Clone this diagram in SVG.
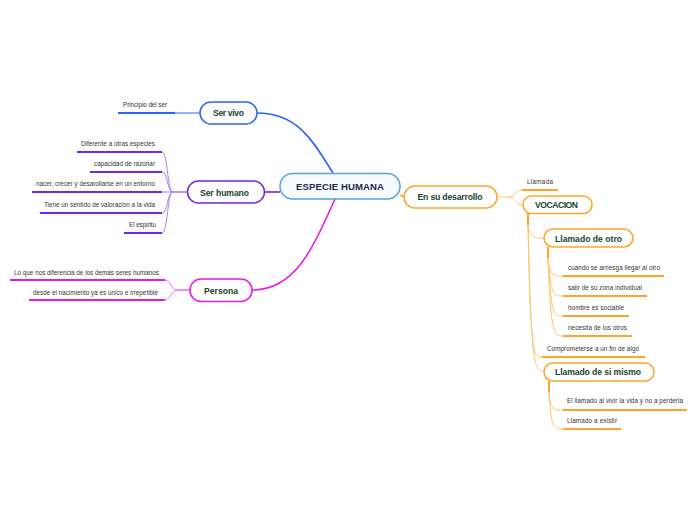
<svg xmlns="http://www.w3.org/2000/svg" width="696" height="520" viewBox="0 0 696 520">
<style>
.leaf{font-family:"Liberation Sans",Arial,sans-serif;font-size:6.3px;fill:#333;}
.nt{font-family:"Liberation Sans",Arial,sans-serif;font-weight:bold;font-size:8.6px;fill:#17432f;}
.node{fill:#fff;stroke-width:1.5;}
.thin{fill:none;stroke-width:1;}
.main{fill:none;stroke-width:1.6;}
.ul{fill:none;stroke-width:2;}
.b{stroke:#2f64f2;} .p{stroke:#7425ee;} .m{stroke:#ea18e6;} .o{stroke:#ffa42a;}
.pl{stroke:#a77ff5;} .ml{stroke:#f27af0;} .ol{stroke:#ffc66e;}
</style>
<rect width="696" height="520" fill="#fff"/>
<g id="connectors">
<path class="main b" d="M257,113 C300,113 315,145 333,173"/>
<path class="main m" d="M252,290 C295,290 312,250 335,199"/>
<path class="main p" d="M264,192 L280,192"/>
<path class="main o" d="M400,195 L404,197"/>
<!-- Ser vivo leaf -->
<path class="thin b" d="M175,113 L200,113"/>
<path class="ul b" d="M118,113 L175,113"/>
<!-- Ser humano leaves -->
<path class="thin p" d="M187,192 L173,192"/>
<path class="thin pl" d="M173,192 C167,192 168,152 162,152"/>
<path class="thin pl" d="M173,192 C167,192 168,172 162,172"/>
<path class="thin pl" d="M173,192 L162,192"/>
<path class="thin pl" d="M173,192 C167,192 168,213 162,213"/>
<path class="thin pl" d="M173,192 C167,192 168,233 162,233"/>
<path class="ul p" d="M77,152 L162,152"/>
<path class="ul p" d="M90,172 L162,172"/>
<path class="ul p" d="M32,192 L162,192"/>
<path class="ul p" d="M40,213 L162,213"/>
<path class="ul p" d="M124,233 L162,233"/>
<!-- Persona leaves -->
<path class="thin m" d="M190,290 L177,290"/>
<path class="thin ml" d="M177,290 C171,290 171,280 165,280"/>
<path class="thin ml" d="M177,290 C171,290 171,300 165,300"/>
<path class="ul m" d="M10,280 L165,280"/>
<path class="ul m" d="M29,300 L165,300"/>
<!-- En su desarrollo -->
<path class="thin ol" d="M497,197 L509,197 C515,197 515,190 522,190"/>
<path class="thin ol" d="M509,197 C515,197 515,205 523,205"/>
<path class="ul o" d="M522,190 L558,190"/>
<!-- VOCACION -->
<path class="ul o" d="M528,213 L528,225"/>
<path class="thin ol" d="M528,225 C530,238 535,238 544,238"/>
<path class="thin ol" d="M528,225 C531,357 533,357 542,357"/>
<path class="thin ol" d="M528,225 C531,371 535,371 544,371"/>
<path class="ul o" d="M542,357 L645,357"/>
<!-- Llamado de otro -->
<path class="ul o" d="M548,247 L548,258"/>
<path class="thin ol" d="M548,258 C550,276 553,276 563,276"/>
<path class="thin ol" d="M548,258 C551,296 554,296 563,296"/>
<path class="thin ol" d="M548,258 C551,316 554,316 563,316"/>
<path class="thin ol" d="M548,258 C551,336 554,336 563,336"/>
<path class="ul o" d="M563,276 L664,276"/>
<path class="ul o" d="M563,296 L647,296"/>
<path class="ul o" d="M563,316 L629,316"/>
<path class="ul o" d="M563,336 L632,336"/>
<!-- Llamado de si mismo -->
<path class="ul o" d="M549,381 L549,392"/>
<path class="thin ol" d="M549,392 C551,410 553,410 563,410"/>
<path class="thin ol" d="M549,392 C551,429 554,429 563,429"/>
<path class="ul o" d="M563,410 L687,410"/>
<path class="ul o" d="M563,429 L621,429"/>
</g>
<g id="central">
<rect x="280" y="173.5" width="120" height="25.5" rx="12.5" fill="#f7fbff" stroke="#5aa0dc" stroke-width="1.5"/>
<text x="340" y="190" text-anchor="middle" font-family="Liberation Sans,Arial,sans-serif" font-weight="bold" font-size="9.6" fill="#1b2a4e" textLength="88">ESPECIE HUMANA</text>
</g>
<g id="ser-vivo">
<rect class="node b" x="200" y="102" width="57" height="22" rx="11"/>
<text class="nt" x="228.5" y="116" text-anchor="middle" textLength="31">Ser vivo</text>
</g>
<g id="principio"><text class="leaf" x="123" y="107" textLength="44">Principio del ser</text></g>
<g id="ser-humano">
<rect class="node p" x="187.5" y="181" width="77" height="22" rx="11"/>
<text class="nt" x="224.5" y="195.5" text-anchor="middle" textLength="49">Ser humano</text>
</g>
<g id="l1"><text class="leaf" x="81" y="146" textLength="74">Diferente a otras especies</text></g>
<g id="l2"><text class="leaf" x="94" y="166" textLength="61">capacidad de razonar</text></g>
<g id="l3"><text class="leaf" x="36" y="186" textLength="119">nacer, crecer y desarollarse en un entorno</text></g>
<g id="l4"><text class="leaf" x="44" y="207" textLength="111">Tiene un sentido de valoración a la vida</text></g>
<g id="l5"><text class="leaf" x="129" y="227" textLength="27">El espiritu</text></g>
<g id="persona">
<rect class="node m" x="190" y="279" width="62" height="22.5" rx="11"/>
<text class="nt" x="221" y="294" text-anchor="middle" textLength="34">Persona</text>
</g>
<g id="p1"><text class="leaf" x="14" y="275" textLength="145">Lo que nos diferencia de los demas seres humanos</text></g>
<g id="p2"><text class="leaf" x="33" y="295" textLength="125">desde el nacimiento ya es único e irrepetible</text></g>
<g id="en-su-desarrollo">
<rect class="node o" x="404" y="186" width="93" height="22" rx="11"/>
<text class="nt" x="450" y="200" text-anchor="middle" textLength="65">En su desarrollo</text>
</g>
<g id="llamada"><text class="leaf" x="527" y="184" textLength="26">Llamada</text></g>
<g id="vocacion">
<rect class="node o" x="523" y="196" width="69" height="17.5" rx="8.5"/>
<text class="nt" x="556.5" y="208" text-anchor="middle" textLength="43">VOCACION</text>
</g>
<g id="llamado-de-otro">
<rect class="node o" x="544" y="229" width="89" height="18" rx="9"/>
<text class="nt" x="588.5" y="241.5" text-anchor="middle" font-size="9.4" textLength="67">Llamado de otro</text>
</g>
<g id="o1"><text class="leaf" x="568" y="270" textLength="92">cuando se arriesga llegar al otro</text></g>
<g id="o2"><text class="leaf" x="568" y="290" textLength="74">salir de su zona individual</text></g>
<g id="o3"><text class="leaf" x="568" y="310" textLength="56">hombre es sociable</text></g>
<g id="o4"><text class="leaf" x="568" y="330" textLength="59">necesita de los otros</text></g>
<g id="comprometerse"><text class="leaf" x="547" y="351" textLength="92">Comprometerse a un fin de algo</text></g>
<g id="llamado-de-si-mismo">
<rect class="node o" x="544" y="363" width="110" height="18" rx="9"/>
<text class="nt" x="598" y="375" text-anchor="middle" font-size="9.4" textLength="86">Llamado de si mismo</text>
</g>
<g id="s1"><text class="leaf" x="567" y="403" textLength="116">El llamado al vivir la vida y no a perderla</text></g>
<g id="s2"><text class="leaf" x="567" y="423" textLength="50">Llamado a existir</text></g>
</svg>
